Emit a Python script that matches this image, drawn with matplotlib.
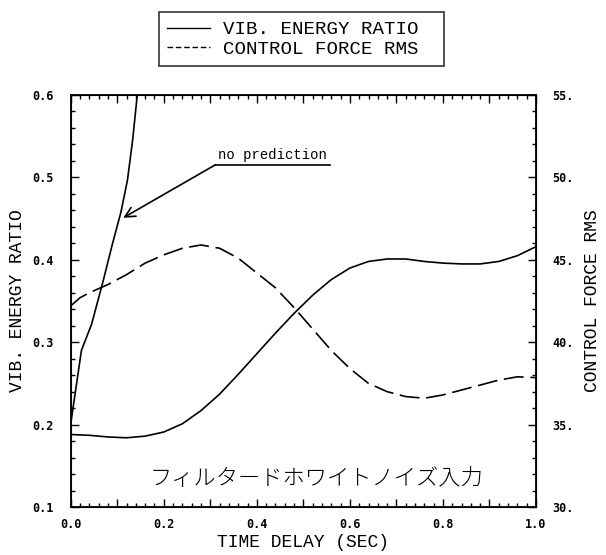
import matplotlib
matplotlib.use("Agg")
import matplotlib.pyplot as plt
from matplotlib.lines import Line2D
from matplotlib.ticker import MultipleLocator, FuncFormatter

# time delay (sec) vs vib. energy ratio, with prediction
t_vib = [0.0, 0.04, 0.08, 0.12, 0.16, 0.20, 0.24, 0.28, 0.32, 0.36, 0.40, 0.44, 0.48,
         0.52, 0.56, 0.60, 0.64, 0.68, 0.72, 0.76, 0.80, 0.84, 0.88, 0.92, 0.96, 1.00]
vib_ratio = [0.188, 0.187, 0.185, 0.184, 0.186, 0.191, 0.201, 0.217, 0.237, 0.261, 0.286,
             0.311, 0.335, 0.357, 0.376, 0.390, 0.398, 0.401, 0.401, 0.398, 0.396, 0.395,
             0.395, 0.398, 0.405, 0.416]

# no prediction
t_nopred = [0.0, 0.023, 0.045, 0.07, 0.09, 0.108, 0.122, 0.133, 0.143]
vib_nopred = [0.201, 0.29, 0.322, 0.375, 0.42, 0.458, 0.497, 0.545, 0.6]

# control force rms (right axis)
t_force = [0.0, 0.02, 0.04, 0.08, 0.12, 0.16, 0.20, 0.24, 0.28, 0.32, 0.36, 0.40, 0.44,
           0.48, 0.52, 0.56, 0.60, 0.64, 0.68, 0.72, 0.76, 0.80, 0.84, 0.88, 0.92, 0.96, 1.00]
force_rms = [42.2, 42.7, 43.0, 43.5, 44.1, 44.8, 45.3, 45.7, 45.9, 45.7, 45.1, 44.2, 43.3,
             42.1, 40.8, 39.5, 38.4, 37.5, 37.0, 36.7, 36.6, 36.8, 37.1, 37.4, 37.7, 37.9, 37.85]

tick_font = dict(family="DejaVu Sans Mono", weight="bold", size=8.5)
label_font = dict(family="Liberation Mono", size=13)

fig = plt.figure(figsize=(6.06, 5.55), dpi=100)
ax = fig.add_axes([0.1167, 0.0865, 0.7678, 0.7423])
ax2 = ax.twinx()

ax.plot(t_vib, vib_ratio, color="black", lw=1.2)
ax.plot(t_nopred, vib_nopred, color="black", lw=1.2)
ax2.plot(t_force, force_rms, color="black", lw=1.2, dashes=(12, 4))

ax.set_xlim(0, 1.0)
ax.set_ylim(0.1, 0.6)
ax2.set_ylim(30, 55)

ax.xaxis.set_major_locator(MultipleLocator(0.1))
ax.xaxis.set_minor_locator(MultipleLocator(0.02))
ax.xaxis.set_major_formatter(FuncFormatter(
    lambda v, p: "%.1f" % v if round(v * 10) % 2 == 0 else ""))
ax.yaxis.set_major_locator(MultipleLocator(0.1))
ax.yaxis.set_minor_locator(MultipleLocator(0.02))
ax.yaxis.set_major_formatter(FuncFormatter(lambda v, p: "%.1f" % v))
ax2.yaxis.set_major_locator(MultipleLocator(5))
ax2.yaxis.set_minor_locator(MultipleLocator(1))
ax2.yaxis.set_major_formatter(FuncFormatter(lambda v, p: "%d." % round(v)))

ax.tick_params(axis="x", which="both", direction="in", top=True, bottom=True, pad=8)
ax.tick_params(axis="y", which="both", direction="in", right=False, pad=12)
ax2.tick_params(axis="y", which="both", direction="in", pad=12)
for a in (ax, ax2):
    a.tick_params(which="major", length=6, width=1.0)
    a.tick_params(which="minor", length=3, width=1.0)
    for lab in a.get_xticklabels() + a.get_yticklabels():
        lab.set_fontproperties(matplotlib.font_manager.FontProperties(**tick_font))
for s in ax.spines.values():
    s.set_linewidth(1.3)

ax.set_xlabel("TIME DELAY (SEC)", fontdict=label_font, labelpad=2)
ax.set_ylabel("VIB. ENERGY RATIO", fontdict=label_font, labelpad=5)
ax2.set_ylabel("CONTROL FORCE RMS", fontdict=label_font, labelpad=7)

# annotation for the no-prediction curve
ax.annotate("", xy=(0.113, 0.451), xytext=(0.31, 0.515),
            arrowprops=dict(arrowstyle="->", color="black", lw=1.2,
                            mutation_scale=18, shrinkA=0, shrinkB=0))
ax.plot([0.31, 0.557], [0.515, 0.515], color="black", lw=1.2)
ax.text(0.317, 0.519, "no prediction", family="Liberation Mono", size=10,
        ha="left", va="bottom")

ax.text(0.17, 0.134, "フィルタードホワイトノイズ入力", family="Noto Sans CJK JP",
        size=16, weight="light", ha="left", va="center")

handles = [Line2D([], [], color="black", lw=1.0),
           Line2D([], [], color="black", lw=1.0, dashes=(4, 2))]
leg = fig.legend(handles, ["VIB. ENERGY RATIO", "CONTROL FORCE RMS"],
                 loc="upper left", bbox_to_anchor=(0.262, 0.877, 0.471, 0.101),
                 mode="expand", prop=dict(family="Liberation Mono", size=13.8),
                 frameon=True, fancybox=False, edgecolor="black",
                 handlelength=2.2, handletextpad=0.7, labelspacing=0.1,
                 borderpad=0.45, borderaxespad=0)
leg.get_frame().set_linewidth(1.2)

fig.savefig("out.png", dpi=100)
